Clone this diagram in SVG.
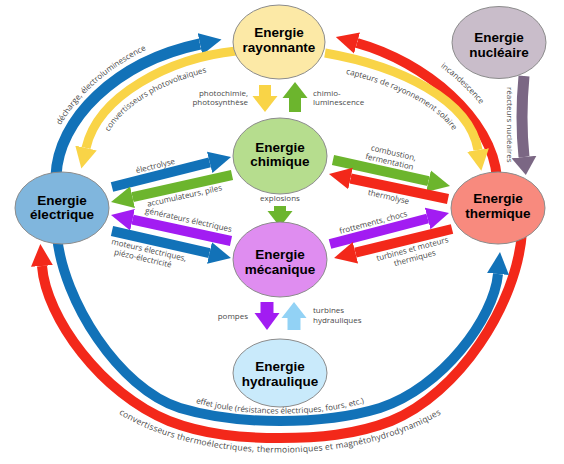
<svg xmlns="http://www.w3.org/2000/svg" width="564" height="464" viewBox="0 0 564 464">
<style>
.lbl{font-family:"Open Sans","Liberation Sans",sans-serif;font-size:8px;fill:#4a4a4a}
.nt{font-family:"Liberation Sans",Arial,sans-serif;font-size:13.5px;font-weight:bold;fill:#000;text-anchor:middle}
.node{stroke:#8c8c8c;stroke-width:1}
.c{fill:none;stroke-linecap:butt}
</style>
<defs>
<marker id="mB" viewBox="0 -12 22 24" refX="0" refY="0" markerWidth="22" markerHeight="24" orient="auto" markerUnits="userSpaceOnUse"><path d="M0,-11 L22,0 L0,11 z" fill="#1272b8"/></marker>
<marker id="mY" viewBox="0 -12 22 24" refX="0" refY="0" markerWidth="22" markerHeight="24" orient="auto" markerUnits="userSpaceOnUse"><path d="M0,-11 L21,0 L0,11 z" fill="#f9d447"/></marker>
<marker id="mR" viewBox="0 -12 22 24" refX="0" refY="0" markerWidth="22" markerHeight="24" orient="auto" markerUnits="userSpaceOnUse"><path d="M0,-11 L22,0 L0,11 z" fill="#f3281a"/></marker>
<marker id="mG" viewBox="0 -12 22 24" refX="0" refY="0" markerWidth="22" markerHeight="24" orient="auto" markerUnits="userSpaceOnUse"><path d="M0,-11 L22,0 L0,11 z" fill="#6cb52d"/></marker>
<marker id="mP" viewBox="0 -12 22 24" refX="0" refY="0" markerWidth="22" markerHeight="24" orient="auto" markerUnits="userSpaceOnUse"><path d="M0,-11 L22,0 L0,11 z" fill="#a21cf2"/></marker>
<marker id="mN" viewBox="0 -13 20 26" refX="0" refY="0" markerWidth="20" markerHeight="26" orient="auto" markerUnits="userSpaceOnUse"><path d="M0,-12.5 L18,0 L0,12.5 z" fill="#7b6784"/></marker>
<marker id="vY" viewBox="0 -13 17 26" refX="0" refY="0" markerWidth="17" markerHeight="26" orient="auto" markerUnits="userSpaceOnUse"><path d="M0,-12.5 L16,0 L0,12.5 z" fill="#f9d447"/></marker>
<marker id="vG" viewBox="0 -13 17 26" refX="0" refY="0" markerWidth="17" markerHeight="26" orient="auto" markerUnits="userSpaceOnUse"><path d="M0,-12.5 L16,0 L0,12.5 z" fill="#6cb52d"/></marker>
<marker id="vP" viewBox="0 -13 17 26" refX="0" refY="0" markerWidth="17" markerHeight="26" orient="auto" markerUnits="userSpaceOnUse"><path d="M0,-12.5 L17,0 L0,12.5 z" fill="#a21cf2"/></marker>
<marker id="vL" viewBox="0 -13 17 26" refX="0" refY="0" markerWidth="17" markerHeight="26" orient="auto" markerUnits="userSpaceOnUse"><path d="M0,-12.5 L16,0 L0,12.5 z" fill="#92d2f5"/></marker>
<path id="tpDech" d="M45,176 C47,117 110,51 197,33"/>
<path id="tpConv" d="M102,152 C108,108 173,74 238,67"/>
<path id="tpInc" d="M359,28 C434,46 508,112 513,178"/>
<path id="tpCapt" d="M322,69 C392,81 458,112 462,153"/>
<path id="tpJoule" d="M178,397 C212,410 247,413.5 280,413.5 C313,413.5 348,410 382,397"/>
<path id="tpThermo" d="M96,398 C146,438 214,452.5 280,452.5 C346,452.5 414,438 464,398"/>
</defs>
<rect width="564" height="464" fill="#fff"/>
<g id="connectors">
<path class="c" d="M56,176 C58,120 115,62 200,44" stroke="#1272b8" stroke-width="11" marker-end="url(#mB)"/>
<path class="c" d="M236,51 C170,58 98,95 86,148" stroke="#f9d447" stroke-width="9" marker-end="url(#mY)"/>
<path class="c" d="M497,178 C492,118 425,62 357,43" stroke="#f3281a" stroke-width="10" marker-end="url(#mR)"/>
<path class="c" d="M325,53 C400,66 470,100 478,150" stroke="#f9d447" stroke-width="9" marker-end="url(#mY)"/>
<path class="c" d="M524,76 Q520,118 524,157" stroke="#7b6784" stroke-width="11" marker-end="url(#mN)"/>
<path class="c" d="M522,232 C517,305 458,394 391,421 C355,435 318,438 280,438 C242,438 205,435 169,421 C102,394 46,318 42,266" stroke="#f3281a" stroke-width="10" marker-end="url(#mR)"/>
<path class="c" d="M57,236 C63,300 118,388 180,408 C213,418 247,421 280,421 C313,421 347,418 380,408 C442,388 494,318 498,274" stroke="#1272b8" stroke-width="10" marker-end="url(#mB)"/>
<path class="c" d="M112,187 L209.7,162.4" stroke="#1272b8" stroke-width="10" marker-end="url(#mB)"/>
<path class="c" d="M232,175 L132.5,197.2" stroke="#6cb52d" stroke-width="10" marker-end="url(#mG)"/>
<path class="c" d="M231,241 L132.5,219.7" stroke="#a21cf2" stroke-width="10" marker-end="url(#mP)"/>
<path class="c" d="M112,231 L209.5,253.1" stroke="#1272b8" stroke-width="10" marker-end="url(#mB)"/>
<path class="c" d="M333,160 L428.5,181.2" stroke="#6cb52d" stroke-width="10" marker-end="url(#mG)"/>
<path class="c" d="M448,199 L350.5,178.5" stroke="#f3281a" stroke-width="10" marker-end="url(#mR)"/>
<path class="c" d="M330,244 L427.7,218.5" stroke="#a21cf2" stroke-width="10" marker-end="url(#mP)"/>
<path class="c" d="M452,229 L355.4,252.7" stroke="#f3281a" stroke-width="10" marker-end="url(#mR)"/>
<path class="c" d="M265,85 L265,96" stroke="#f9d447" stroke-width="12" marker-end="url(#vY)"/>
<path class="c" d="M295,112 L295,98" stroke="#6cb52d" stroke-width="12" marker-end="url(#vG)"/>
<path class="c" d="M280,206 L280,211" stroke="#6cb52d" stroke-width="12" marker-end="url(#vG)"/>
<path class="c" d="M267,302 L267,313" stroke="#a21cf2" stroke-width="13" marker-end="url(#vP)"/>
<path class="c" d="M294,330 L294,318" stroke="#92d2f5" stroke-width="13" marker-end="url(#vL)"/>
</g>
<g id="rayonnante"><ellipse class="node" cx="279" cy="42" rx="46" ry="37" fill="#fce9a6"/><text class="nt" x="279" y="37">Energie</text><text class="nt" x="279" y="51.5">rayonnante</text></g>
<g id="nucleaire"><ellipse class="node" cx="499" cy="42.5" rx="47" ry="36" fill="#c9bdca"/><text class="nt" x="499" y="42">Energie</text><text class="nt" x="499" y="57">nucléaire</text></g>
<g id="chimique"><ellipse class="node" cx="280" cy="156" rx="47" ry="38" fill="#b6dd8e"/><text class="nt" x="280" y="152">Energie</text><text class="nt" x="280" y="166">chimique</text></g>
<g id="electrique"><ellipse class="node" cx="62" cy="208" rx="47" ry="36" fill="#80b6dd"/><text class="nt" x="62" y="205">Energie</text><text class="nt" x="62" y="219">électrique</text></g>
<g id="thermique"><ellipse class="node" cx="498" cy="208" rx="47" ry="36" fill="#f88a7e"/><text class="nt" x="498" y="203">Energie</text><text class="nt" x="498" y="218">thermique</text></g>
<g id="mecanique"><ellipse class="node" cx="280" cy="259.5" rx="47" ry="37.5" fill="#df8df0"/><text class="nt" x="280" y="259">Energie</text><text class="nt" x="280" y="273.5">mécanique</text></g>
<g id="hydraulique"><ellipse class="node" cx="280" cy="373" rx="47" ry="34" fill="#c9eafb"/><text class="nt" x="280" y="371">Energie</text><text class="nt" x="280" y="386">hydraulique</text></g>
<g id="labels">
<text class="lbl"><textPath href="#tpDech" startOffset="50%" text-anchor="middle">décharge, électroluminescence</textPath></text>
<text class="lbl"><textPath href="#tpConv" startOffset="47%" text-anchor="middle">convertisseurs photovoltaïques</textPath></text>
<text class="lbl"><textPath href="#tpInc" startOffset="52%" text-anchor="middle">incandescence</textPath></text>
<text class="lbl"><textPath href="#tpCapt" startOffset="50%" text-anchor="middle">capteurs de rayonnement solaire</textPath></text>
<text class="lbl"><textPath href="#tpJoule" startOffset="50%" text-anchor="middle">effet joule (résistances électriques, fours, etc.)</textPath></text>
<text class="lbl" style="font-size:8.5px;letter-spacing:0.2px"><textPath href="#tpThermo" startOffset="50%" text-anchor="middle">convertisseurs thermoélectriques, thermoioniques et magnétohydrodynamiques</textPath></text>
<text class="lbl" transform="translate(507,87) rotate(90)">réacteurs nucléaires</text>
<text class="lbl" text-anchor="end" x="248" y="95.5">photochimie,</text>
<text class="lbl" text-anchor="end" x="248" y="105">photosynthèse</text>
<text class="lbl" x="313" y="95.5">chimio-</text>
<text class="lbl" x="313" y="105">luminescence</text>
<text class="lbl" text-anchor="middle" x="280" y="201">explosions</text>
<text class="lbl" text-anchor="end" x="248" y="319">pompes</text>
<text class="lbl" x="313" y="313">turbines</text>
<text class="lbl" x="313" y="323">hydrauliques</text>
<text class="lbl" text-anchor="middle" transform="translate(156,168.5) rotate(-14)">électrolyse</text>
<text class="lbl" text-anchor="middle" transform="translate(185,198.5) rotate(-12.5)">accumulateurs, piles</text>
<text class="lbl" text-anchor="middle" transform="translate(188,222.5) rotate(12.5)">générateurs électriques</text>
<text class="lbl" transform="translate(111,244) rotate(13)"><tspan x="0" y="0">moteurs électriques,</tspan><tspan x="5" y="9.5">piézo-électricité</tspan></text>
<text class="lbl" text-anchor="middle" transform="translate(393,155.5) rotate(13)"><tspan x="0" y="0">combustion,</tspan><tspan x="-2" y="9.5">fermentation</tspan></text>
<text class="lbl" text-anchor="middle" transform="translate(388,199.5) rotate(13)">thermolyse</text>
<text class="lbl" text-anchor="middle" transform="translate(374,225) rotate(-15)">frottements, chocs</text>
<text class="lbl" text-anchor="middle" transform="translate(413,251.5) rotate(-15)"><tspan x="0" y="0">turbines et moteurs</tspan><tspan x="0" y="9.5">thermiques</tspan></text>
</g>
</svg>
